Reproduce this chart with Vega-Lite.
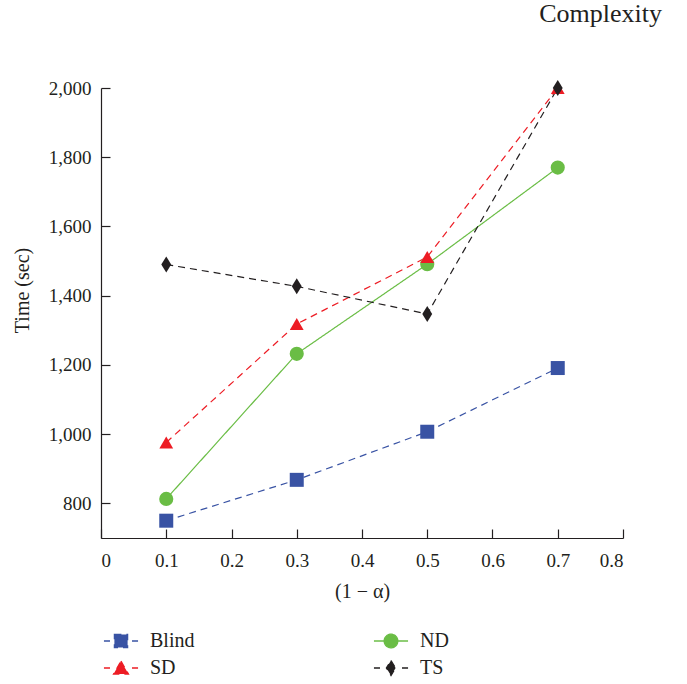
{
  "$schema": "https://vega.github.io/schema/vega-lite/v6.json",
  "width": 522,
  "height": 450,
  "autosize": "none",
  "padding": {"left": 101, "top": 88, "right": 64, "bottom": 146},
  "background": "white",
  "title": {"text": "Complexity", "anchor": "end", "frame": "group", "font": "Liberation Serif", "fontSize": 26, "fontWeight": "normal", "color": "#231f20", "dx": 39, "offset": 52},
  "config": {
    "font": "Liberation Serif",
    "style": {"guide-label": {"font": "Liberation Serif"}, "guide-title": {"font": "Liberation Serif"}},
    "view": {"stroke": null},
    "axis": {"grid": false, "domainColor": "#231f20", "tickColor": "#231f20", "domainWidth": 1.2, "tickWidth": 1.2, "labelFont": "Liberation Serif", "labelFontSize": 19, "labelColor": "#231f20", "titleFont": "Liberation Serif", "titleFontSize": 20, "titleFontWeight": "normal", "titleColor": "#231f20"},
    "legend": {"labelFont": "Liberation Serif", "labelFontSize": 20, "labelColor": "#231f20"}
  },
  "data": {"values": [
    {"x": 0.1, "time": 750, "series": "Blind"},
    {"x": 0.3, "time": 868, "series": "Blind"},
    {"x": 0.5, "time": 1007, "series": "Blind"},
    {"x": 0.7, "time": 1191, "series": "Blind"},
    {"x": 0.1, "time": 976, "series": "SD"},
    {"x": 0.3, "time": 1318, "series": "SD"},
    {"x": 0.5, "time": 1512, "series": "SD"},
    {"x": 0.7, "time": 2000, "series": "SD"},
    {"x": 0.1, "time": 813, "series": "ND"},
    {"x": 0.3, "time": 1232, "series": "ND"},
    {"x": 0.5, "time": 1491, "series": "ND"},
    {"x": 0.7, "time": 1770, "series": "ND"},
    {"x": 0.1, "time": 1490, "series": "TS"},
    {"x": 0.3, "time": 1427, "series": "TS"},
    {"x": 0.5, "time": 1347, "series": "TS"},
    {"x": 0.7, "time": 2000, "series": "TS"}
  ]},
  "encoding": {
    "x": {"field": "x", "type": "quantitative", "scale": {"domain": [0, 0.8], "nice": false, "zero": false},
      "axis": {"values": [0, 0.1, 0.2, 0.3, 0.4, 0.5, 0.6, 0.7, 0.8], "format": ".1~f", "tickSize": -9, "labelPadding": 22, "title": "(1 − α)", "titleY": 53, "titleBaseline": "middle"}},
    "y": {"field": "time", "type": "quantitative", "scale": {"domain": [700, 2000], "nice": false, "zero": false},
      "axis": {"values": [800, 1000, 1200, 1400, 1600, 1800, 2000], "format": ",d", "tickSize": -9, "labelPadding": 19, "title": "Time (sec)", "titleX": -79, "titleY": 202, "titleBaseline": "middle", "titleAngle": -90}},
    "color": {"field": "series", "type": "nominal", "scale": {"domain": ["Blind", "ND", "SD", "TS"], "range": ["#3953a4", "#6abd45", "#ed1c24", "#231f20"]},
      "legend": {"orient": "none", "legendX": 8, "legendY": 541, "title": null, "columns": 2, "columnPadding": 176, "rowPadding": 5,
        "values": ["Blind", "SD", "ND", "TS"],
        "symbolSize": 484, "symbolOpacity": 1, "symbolStrokeWidth": 1.3, "labelOffset": 17,
        "labelFont": "Liberation Serif", "labelFontSize": 20, "labelColor": "#231f20",
        "encode": {"symbols": {"update": {"stroke": {"scale": "color", "field": "value"}, "strokeWidth": {"value": 1.3}, "opacity": {"value": 1}, "fill": {"scale": "color", "field": "value"}}}, "labels": {"update": {"font": {"value": "Liberation Serif"}, "fontSize": {"value": 20}}}}}}
  },
  "layer": [
    {
      "mark": {"type": "line", "strokeWidth": 1.2},
      "encoding": {
        "strokeDash": {"field": "series", "type": "nominal", "scale": {"domain": ["Blind", "ND", "SD", "TS"], "range": [[7, 5], [1, 0], [7, 5], [7, 5]]}, "legend": null}
      }
    },
    {
      "transform": [{"filter": "datum.series === 'Blind'"}],
      "mark": {"type": "point", "shape": "square", "filled": true, "opacity": 1, "size": 196}
    },
    {
      "transform": [{"filter": "datum.series === 'ND'"}],
      "mark": {"type": "point", "shape": "circle", "filled": true, "opacity": 1, "size": 200}
    },
    {
      "transform": [{"filter": "datum.series === 'SD'"}],
      "mark": {"type": "point", "shape": "triangle-up", "filled": true, "opacity": 1, "size": 190}
    },
    {
      "transform": [{"filter": "datum.series === 'TS'"}],
      "mark": {"type": "point", "shape": "M0,-1L0.62,0L0,1L-0.62,0Z", "filled": true, "opacity": 1, "size": 256}
    },
    {
      "mark": {"type": "point", "filled": true, "opacity": 0, "size": 484},
      "encoding": {
        "shape": {"field": "series", "type": "nominal", "scale": {"domain": ["Blind", "ND", "SD", "TS"], "range": [
          "M-1.55,0L-1.0,0M1.0,0L1.55,0M-0.6,-0.6L0.6,-0.6L0.6,0.6L-0.6,0.6Z",
          "M-1.55,0L1.55,0M0.62,0A0.62,0.62,0,1,1,-0.62,0A0.62,0.62,0,1,1,0.62,0Z",
          "M-1.55,0L-1.0,0M1.0,0L1.55,0M0,-0.62L0.68,0.55L-0.68,0.55Z",
          "M-1.55,0L-1.0,0M1.0,0L1.55,0M0,-0.68L0.42,0L0,0.68L-0.42,0Z"
        ]}}
      }
    }
  ]
}
